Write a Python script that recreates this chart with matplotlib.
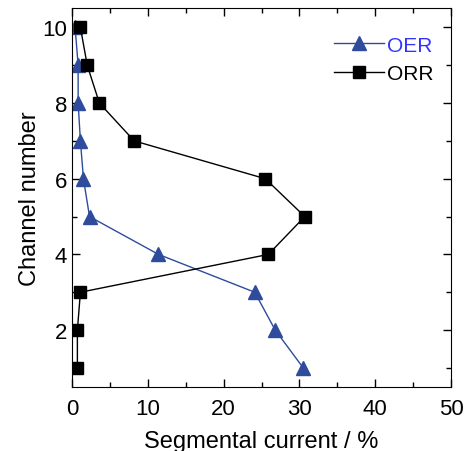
import matplotlib
matplotlib.use("Agg")
import matplotlib.pyplot as plt
from matplotlib.ticker import MultipleLocator

plt.rcParams['font.family'] = ['Liberation Sans', 'DejaVu Sans']

# channel numbers and segmental current (%) per reaction
channels = [1, 2, 3, 4, 5, 6, 7, 8, 9, 10]
oer = [30.5, 26.8, 24.1, 11.4, 2.3, 1.5, 1.1, 0.8, 0.8, 0.4]
orr = [0.7, 0.7, 1.1, 25.9, 30.7, 25.5, 8.2, 3.6, 2.0, 1.1]

blue = '#2E4C9B'

fig = plt.figure(figsize=(4.65, 4.52), dpi=100)
ax = fig.add_axes([0.155, 0.142, 0.815, 0.837])

ax.plot(oer, channels, color=blue, marker='^', markersize=9.5, linewidth=1, label='OER')
ax.plot(orr, channels, color='black', marker='s', markersize=8.5, linewidth=1, label='ORR')

ax.set_xlim(0, 50)
ax.set_ylim(0.5, 10.5)
ax.xaxis.set_major_locator(MultipleLocator(10))
ax.xaxis.set_minor_locator(MultipleLocator(5))
ax.yaxis.set_major_locator(MultipleLocator(2))
ax.yaxis.set_minor_locator(MultipleLocator(1))
ax.tick_params(which='both', direction='in', top=True, right=True, labelsize=16, width=1)
ax.tick_params(which='major', length=6)
ax.tick_params(which='minor', length=3.5)
ax.tick_params(axis='x', pad=8)

ax.set_xlabel('Segmental current / %', fontsize=17, labelpad=8)
ax.set_ylabel('Channel number', fontsize=17, labelpad=1)

leg = ax.legend(loc='upper right', frameon=False, fontsize=15, handlelength=2.4,
                handletextpad=0.15, labelspacing=0.45, borderaxespad=0,
                bbox_to_anchor=(0.975, 0.95))
leg.get_texts()[0].set_color('#3333FF')

fig.savefig('out.png', dpi=100)
